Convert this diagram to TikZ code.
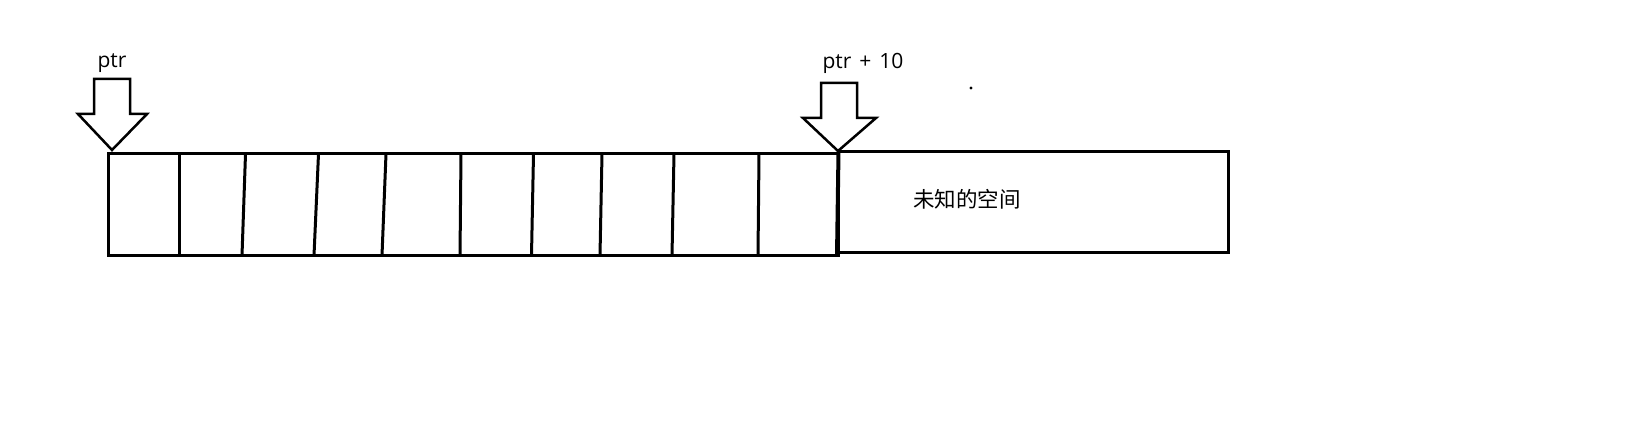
\documentclass[tikz,border=0pt]{standalone}
\usepackage{fontspec}
\setmainfont{Open Sans}
\newfontfamily\cjk{Noto Sans CJK SC}
\begin{document}
\begin{tikzpicture}[x=1pt,y=-1pt,
  line/.style={line width=3pt},
  blockarrow/.style={line width=2.5pt, line join=miter, fill=white},
  lbl/.style={inner sep=0pt, font=\fontsize{21}{25}\selectfont}]
\useasboundingbox[fill=white] (0,0) rectangle (1639,443);
% left memory block
\draw[line] (108,154) rectangle (838,255.5);
\draw[line] (179,154) -- (179,255.5);
\draw[line] (245.5,154) -- (242,255.5);
\draw[line] (318.5,154) -- (314,255.5);
\draw[line] (386,154) -- (382,255.5);
\draw[line] (461,154) -- (460,255.5);
\draw[line] (533.5,154) -- (531.5,255.5);
\draw[line] (602,154) -- (600,255.5);
\draw[line] (674,154) -- (672,255.5);
\draw[line] (759,154) -- (758,255.5);
\draw[line width=4pt] (838.5,152) -- (837,256);
% unknown space
\draw[line] (838,152) rectangle (1228,253);
\node[lbl, font=\cjk\fontsize{21.5}{25}\selectfont] (unk) at (967,199) {未知的空间};
% arrows
\draw[blockarrow] (94,79) -- (130,79) -- (130,114) -- (147,114) -- (112,150) -- (78,114) -- (94,114) -- cycle;
\draw[blockarrow] (821,83) -- (857,83) -- (857,118) -- (876,118) -- (838,151) -- (803,118) -- (821,118) -- cycle;
\node[lbl] (ptr) at (112,63) {ptr};
\node[lbl] (ptr10) at (863,63) {ptr\hspace{0.12em} + \hspace{0.12em}10};
\fill (971,88) circle (1.7);
\end{tikzpicture}
\end{document}
